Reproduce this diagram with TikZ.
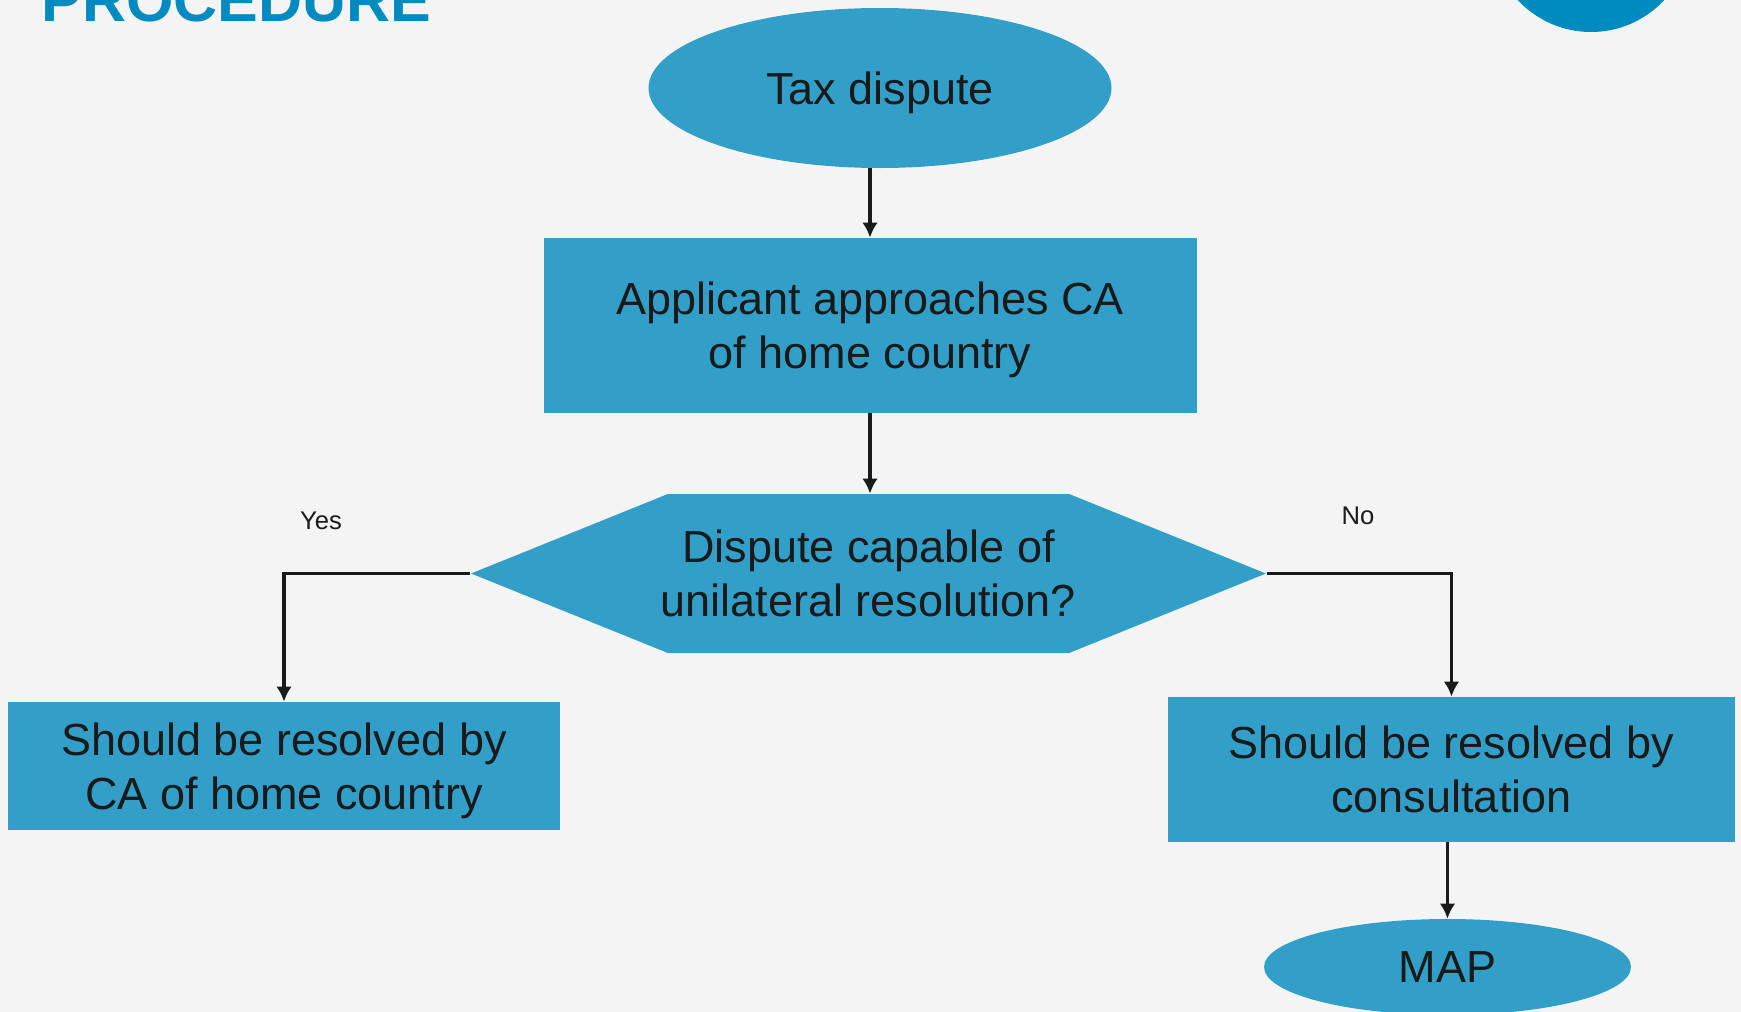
\documentclass[tikz,border=0pt]{standalone}
\usepackage{fontspec}
\setmainfont{Liberation Sans}
\usetikzlibrary{shapes.geometric,shapes.symbols,arrows.meta}

\definecolor{bgcol}{HTML}{F4F4F4}
\definecolor{boxcol}{HTML}{329FC9}
\definecolor{titlecol}{HTML}{008BC0}
\definecolor{inkcol}{HTML}{1A1A1A}

\begin{document}
\begin{tikzpicture}[
	x=0.5pt, y=-0.5pt,
	txt/.style={ text=inkcol, font=\fontsize{22.5}{27}\selectfont, align=center, inner sep=0pt, text depth=-1.5pt },
	oval/.style={ ellipse, fill=boxcol, txt },
	block/.style={ rectangle, fill=boxcol, txt },
	hexa/.style={ signal, signal to=east and west, signal pointer angle=44, fill=boxcol, txt, inner xsep=-3.5pt },
	small/.style={ text=inkcol, font=\fontsize{12.8}{15}\selectfont, inner sep=0pt },
	link/.style={ draw=inkcol, line width=1.6pt, -{Latex[length=7.5pt,width=7.8pt]} },
]

\useasboundingbox (0,0) rectangle (1741,1012);
\clip (0,0) rectangle (1741,1012);
\fill[bgcol] (0,0) rectangle (1741,1012);

\node at (41,21) (title) [anchor=base west, inner sep=0pt, text=titlecol, font=\fontsize{30.5}{36}\selectfont\bfseries] {PROCEDURE};
\node at (1591,-68) (badge) [circle, fill=titlecol, inner sep=0pt, minimum size=100pt] {};

\node at (880,88) (tax) [oval, minimum width=231.5pt, minimum height=80pt] {Tax dispute};
\node at (870,325.5) (appl) [block, minimum width=326.5pt, minimum height=87.5pt] {Applicant approaches CA\\of home country};
\node at (868.5,573.5) (dispute) [hexa, minimum height=79.5pt] {Dispute capable of\\unilateral resolution?};

\node at (284,766) (home) [block, minimum width=276pt, minimum height=64pt] {Should be resolved by\\CA of home country};
\node at (1451.5,769.5) (consult) [block, minimum width=283.5pt, minimum height=72.5pt] {Should be resolved by\\consultation};
\node at (1447.5,967) (map) [oval, minimum width=183.5pt, minimum height=48pt] {MAP};

\node at (321,521) (yes) [small] {Yes};
\node at (1358,516) (no) [small] {No};

\draw[link] (tax.south -| appl.north) to (appl.north);
\draw[link] (appl.south) to (appl.south |- dispute.north);
\foreach \s/\t in {west/home,east/consult} {
	\draw[link] (dispute.\s) -| (\t.north);
}
\draw[link] (consult.south -| map.north) to (map.north);

\end{tikzpicture}
\end{document}
